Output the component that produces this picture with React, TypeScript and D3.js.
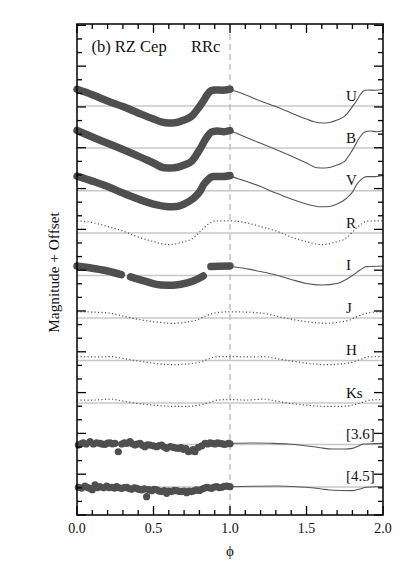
import React from "react";
import * as d3 from "d3";

const W = 407;
const H = 564;
const X0 = 77, X1 = 383, Y0 = 24, Y1 = 515;

// axis ticks
const phaseTicks = d3.range(0, 21).map((i) => i / 10);
const phaseLabels = [0, 0.5, 1, 1.5, 2];
const magTicks = d3.range(0, 37).map((i) => i / 10);

// bands
const bandNames = ["U", "B", "V", "R", "I", "J", "H", "Ks", "[3.6]", "[4.5]"];
const bandOffsets = [0.593, 0.902, 1.216, 1.527, 1.839, 2.152, 2.464, 2.777, 3.082, 3.394];
const bandDotted = [false, false, false, true, false, true, true, true, false, false];

// templates: [phase, magnitude deviation from mean]
const tplU: [number, number][] = [
  [0.0, -0.123], [0.1, -0.083], [0.2, -0.037], [0.3, 0.004], [0.4, 0.051], [0.5, 0.096],
  [0.55, 0.116], [0.6, 0.125], [0.65, 0.121], [0.7, 0.103], [0.75, 0.074], [0.8, 0.005],
  [0.83, -0.044], [0.85, -0.081], [0.875, -0.112], [0.9, -0.118], [0.95, -0.116], [1.0, -0.123],
];
const tplB: [number, number][] = [
  [0.0, -0.129], [0.1, -0.081], [0.2, -0.035], [0.3, 0.011], [0.4, 0.059], [0.5, 0.11],
  [0.57, 0.145], [0.62, 0.147], [0.7, 0.125], [0.75, 0.096], [0.8, 0.015], [0.85, -0.081],
  [0.88, -0.118], [0.92, -0.125], [0.96, -0.12], [1.0, -0.129],
];
const tplV: [number, number][] = [
  [0.0, -0.108], [0.1, -0.071], [0.2, -0.031], [0.3, 0.017], [0.4, 0.061], [0.5, 0.098],
  [0.6, 0.118], [0.65, 0.116], [0.7, 0.098], [0.76, 0.057], [0.8, 0.01], [0.83, -0.049],
  [0.86, -0.086], [0.89, -0.104], [0.95, -0.104], [1.0, -0.112],
];
const tplR: [number, number][] = [
  [0.0, -0.09], [0.1, -0.077], [0.2, -0.048], [0.3, -0.015], [0.4, 0.029], [0.5, 0.063],
  [0.6, 0.085], [0.7, 0.063], [0.76, 0.037], [0.8, -0.007], [0.85, -0.059], [0.9, -0.088], [1.0, -0.09],
];
const tplI: [number, number][] = [
  [0.0, -0.068], [0.1, -0.051], [0.2, -0.029], [0.3, -0.004], [0.4, 0.029], [0.5, 0.059],
  [0.6, 0.07], [0.7, 0.059], [0.76, 0.029], [0.8, 0.0], [0.85, -0.04], [0.89, -0.065], [1.0, -0.07],
];
const tplJ: [number, number][] = [
  [0.0, -0.046], [0.1, -0.044], [0.22, -0.035], [0.3, -0.015], [0.43, 0.015], [0.55, 0.033],
  [0.63, 0.039], [0.72, 0.029], [0.78, 0.015], [0.84, -0.015], [0.89, -0.035], [0.95, -0.044], [1.0, -0.046],
];
const tplH: [number, number][] = [
  [0.0, -0.029], [0.12, -0.026], [0.22, -0.028], [0.3, -0.015], [0.43, 0.009], [0.55, 0.026],
  [0.63, 0.031], [0.72, 0.026], [0.81, 0.009], [0.86, -0.011], [0.9, -0.026], [1.0, -0.029],
];
const tplKs: [number, number][] = [
  [0.0, -0.022], [0.1, -0.022], [0.22, -0.029], [0.3, -0.015], [0.4, 0.004], [0.5, 0.015],
  [0.62, 0.024], [0.72, 0.024], [0.8, 0.015], [0.86, -0.004], [0.92, -0.022], [1.0, -0.026],
];
const tpl36: [number, number][] = [
  [0.0, -0.009], [0.15, -0.011], [0.26, -0.009], [0.38, -0.004], [0.48, 0.007], [0.58, 0.022],
  [0.67, 0.033], [0.75, 0.033], [0.8, 0.028], [0.84, 0.011], [0.87, -0.004], [0.95, -0.007], [1.0, -0.009],
];
const tpl45: [number, number][] = [
  [0.0, -0.002], [0.15, -0.005], [0.3, -0.007], [0.4, -0.004], [0.5, 0.002], [0.6, 0.015],
  [0.65, 0.022], [0.72, 0.026], [0.8, 0.027], [0.85, 0.015], [0.89, 0.002], [0.95, -0.002], [1.0, -0.002],
];
const templates = [tplU, tplB, tplV, tplR, tplI, tplJ, tplH, tplKs, tpl36, tpl45];

// observed I band (segments with gaps)
const obsI: [number, number][][] = [
  [[0.0, -0.07], [0.1, -0.053], [0.2, -0.033], [0.29, -0.006]],
  [[0.35, 0.01], [0.45, 0.044], [0.55, 0.07], [0.63, 0.072], [0.72, 0.055], [0.78, 0.03], [0.825, 0.003]],
  [[0.875, -0.066], [0.93, -0.068], [1.0, -0.07]],
];

// observed [3.6] points
const obs36: [number, number][] = [
  [0.009, 0.004], [0.025, -0.006], [0.041, -0.013], [0.06, -0.004], [0.085, -0.021], [0.107, -0.004],
  [0.128, -0.012], [0.15, -0.009], [0.165, -0.003], [0.183, -0.001], [0.2, -0.01], [0.216, -0.013],
  [0.232, -0.005], [0.248, -0.009], [0.27, 0.053], [0.292, -0.004], [0.31, -0.012], [0.325, -0.009],
  [0.346, -0.021], [0.362, -0.006], [0.379, 0.004], [0.395, -0.004], [0.412, -0.009], [0.428, 0.006],
  [0.444, 0.016], [0.46, 0.002], [0.477, 0.004], [0.5, 0.01], [0.521, 0.016], [0.537, 0.008],
  [0.553, 0.004], [0.57, 0.018], [0.586, 0.028], [0.61, 0.015], [0.63, 0.021], [0.645, 0.026],
  [0.662, 0.028], [0.68, 0.022], [0.695, 0.035], [0.712, 0.03], [0.728, 0.053], [0.749, 0.046],
  [0.76, 0.038], [0.771, 0.053], [0.793, 0.021], [0.815, 0.01], [0.837, -0.009], [0.853, -0.004],
  [0.869, -0.013], [0.885, -0.008], [0.902, -0.004], [0.918, -0.012], [0.935, -0.009], [0.95, -0.005],
  [0.967, -0.001], [0.989, -0.009], [1.0, -0.006],
];

// observed [4.5] points
const obs45: [number, number][] = [
  [0.009, 0.002], [0.03, 0.008], [0.052, -0.007], [0.07, 0.004], [0.085, 0.01], [0.1, 0.02],
  [0.118, -0.015], [0.135, 0.004], [0.15, -0.002], [0.175, 0.006], [0.194, -0.007], [0.21, 0.004],
  [0.227, 0.002], [0.245, 0.008], [0.259, -0.002], [0.275, 0.006], [0.292, 0.01], [0.31, 0.004],
  [0.325, 0.002], [0.34, 0.012], [0.357, 0.017], [0.375, 0.006], [0.39, 0.01], [0.405, 0.018],
  [0.423, 0.022], [0.44, 0.014], [0.455, 0.071], [0.47, 0.02], [0.488, 0.027], [0.505, 0.018],
  [0.521, 0.022], [0.537, 0.03], [0.553, 0.034], [0.57, 0.026], [0.586, 0.047], [0.6, 0.03],
  [0.619, 0.034], [0.635, 0.024], [0.651, 0.027], [0.668, 0.032], [0.684, 0.034], [0.7, 0.03],
  [0.717, 0.042], [0.733, 0.03], [0.749, 0.034], [0.765, 0.028], [0.782, 0.022], [0.8, 0.026],
  [0.815, 0.017], [0.83, 0.01], [0.847, 0.002], [0.862, 0.006], [0.88, 0.01], [0.897, 0.0],
  [0.913, -0.002], [0.93, 0.004], [0.946, 0.002], [0.962, -0.004], [0.979, -0.007], [1.0, -0.002],
];

const FONT = "'Liberation Serif', 'Times New Roman', serif";
const DARK = "#4f4f4f";

export default function App() {
  const x = d3.scaleLinear().domain([0, 2]).range([X0, X1]);
  const y = d3.scaleLinear().domain([-0.01, 3.6]).range([Y0, Y1]);
  const line = d3
    .line<[number, number]>()
    .x((d) => x(d[0]))
    .y((d) => y(d[1]))
    .curve(d3.curveMonotoneX);

  const shift = (tpl: [number, number][], off: number, dp: number) =>
    tpl.map(([p, v]) => [p + dp, off + v] as [number, number]);

  return (
    <svg width={W} height={H} style={{ display: "block", position: "absolute", left: 0, top: 0 }}>
      <rect x={0} y={0} width={W} height={H} fill="#fff" />
      {/* mean lines */}
      {bandOffsets.map((o, i) => (
        <line key={"g" + i} x1={X0} x2={X1} y1={y(o)} y2={y(o)} stroke="#c8c8c8" strokeWidth={1.5} />
      ))}
      {/* phase 1 dashed */}
      <line x1={x(1)} x2={x(1)} y1={Y0} y2={Y1} stroke="#bdbdbd" strokeWidth={1.4} strokeDasharray="6 4" />

      {/* curves */}
      {templates.map((tpl, i) => {
        const off = bandOffsets[i];
        if (bandDotted[i]) {
          const pts = shift(tpl, off, 0).concat(shift(tpl, off, 1).slice(1));
          return (
            <path key={"c" + i} d={line(pts) || ""} fill="none" stroke="#555" strokeWidth={1.2} strokeDasharray="1.2 2.3" />
          );
        }
        return (
          <path key={"c" + i} d={line(shift(tpl, off, 1)) || ""} fill="none" stroke="#555" strokeWidth={1.1} />
        );
      })}

      {/* dense observations U, B, V */}
      {[0, 1, 2].map((i) => (
        <path
          key={"o" + i}
          d={line(shift(templates[i], bandOffsets[i], 0)) || ""}
          fill="none"
          stroke={DARK}
          strokeWidth={7.5}
          strokeLinecap="round"
          strokeLinejoin="round"
        />
      ))}
      {/* I observations */}
      {obsI.map((seg, k) => (
        <path
          key={"i" + k}
          d={line(shift(seg, bandOffsets[4], 0)) || ""}
          fill="none"
          stroke={DARK}
          strokeWidth={7.5}
          strokeLinecap="round"
          strokeLinejoin="round"
        />
      ))}
      {/* IRAC observations */}
      {obs36.map(([p, v], k) => (
        <circle key={"a" + k} cx={x(p)} cy={y(bandOffsets[8] + v)} r={3.6} fill={DARK} />
      ))}
      {obs45.map(([p, v], k) => (
        <circle key={"b" + k} cx={x(p)} cy={y(bandOffsets[9] + v)} r={3.6} fill={DARK} />
      ))}

      {/* band labels */}
      {bandNames.map((n, i) => (
        <text key={"l" + i} x={346} y={y(bandOffsets[i]) - 5.5} fontFamily={FONT} fontSize={15} fill="#111">
          {n}
        </text>
      ))}

      {/* frame */}
      <rect x={X0} y={Y0} width={X1 - X0} height={Y1 - Y0} fill="none" stroke="#000" strokeWidth={1.5} />

      {/* x ticks */}
      {phaseTicks.map((t, k) => {
        const major = Math.abs(t * 2 - Math.round(t * 2)) < 1e-6;
        const len = major ? 9 : 5;
        return (
          <g key={"xt" + k}>
            <line x1={x(t)} x2={x(t)} y1={Y1} y2={Y1 - len} stroke="#000" strokeWidth={1.3} />
            <line x1={x(t)} x2={x(t)} y1={Y0} y2={Y0 + len} stroke="#000" strokeWidth={1.3} />
          </g>
        );
      })}
      {/* y ticks */}
      {magTicks.map((t, k) => {
        const major = k % 3 === 0;
        const len = major ? 9 : 5;
        return (
          <g key={"yt" + k}>
            <line x1={X0} x2={X0 + len} y1={y(t)} y2={y(t)} stroke="#000" strokeWidth={1.3} />
            <line x1={X1} x2={X1 - len} y1={y(t)} y2={y(t)} stroke="#000" strokeWidth={1.3} />
          </g>
        );
      })}
      {phaseLabels.map((t, k) => (
        <text key={"xl" + k} x={x(t)} y={533} textAnchor="middle" fontFamily={FONT} fontSize={14} fill="#111">
          {t.toFixed(1)}
        </text>
      ))}
      <text x={x(1)} y={556} textAnchor="middle" fontFamily={FONT} fontSize={15} fill="#111">
        {"\u03D5"}
      </text>
      <text
        transform={`translate(59, ${(Y0 + Y1) / 2 + 3}) rotate(-90)`}
        textAnchor="middle"
        fontFamily={FONT}
        fontSize={15.3}
        fill="#111"
      >
        Magnitude + Offset
      </text>
      <text x={91.5} y={51.7} fontFamily={FONT} fontSize={16.5} fill="#111">
        (b) RZ Cep
      </text>
      <text x={191} y={51.7} fontFamily={FONT} fontSize={16.5} fill="#111">
        RRc
      </text>
    </svg>
  );
}
